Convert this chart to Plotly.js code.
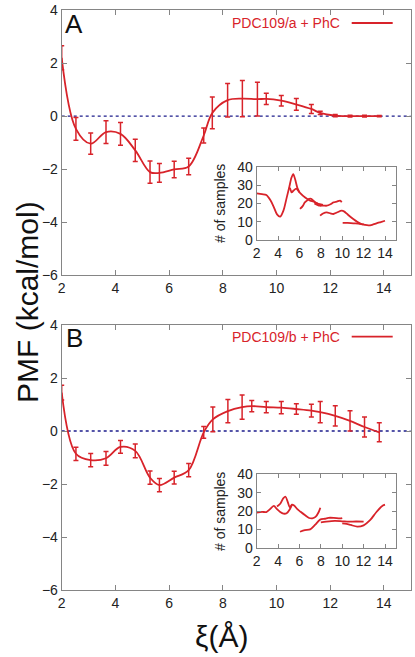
<!DOCTYPE html>
<html>
<head>
<meta charset="utf-8">
<script src="https://cdn.plot.ly/plotly-3.0.1.min.js"></script>
<style>html,body{margin:0;padding:0;background:#fff;}#chart{width:415px;height:657px;}</style>
</head>
<body>
<div id="chart"></div>
<script>
// ---- Main PMF data, panel A (PDC109/a + PhC) ----
const xiA   = [2.0,2.53,3.08,3.65,4.19,4.74,5.29,5.64,6.19,6.73,7.29,7.61,8.18,8.73,9.29,9.62,10.18,10.74,11.3,11.63,12.19,12.74,13.28,13.83];
const pmfA  = [2.2,-0.48,-1.04,-0.6,-0.67,-1.29,-2.11,-2.14,-2.01,-1.9,-0.73,0.12,0.6,0.66,0.64,0.65,0.58,0.44,0.27,0.12,0.02,0.0,0.0,0.0];
const errA  = [0.45,0.43,0.4,0.43,0.43,0.42,0.42,0.35,0.31,0.31,0.28,0.6,0.63,0.68,0.64,0.21,0.2,0.22,0.17,0.06,0.04,0.03,0.03,0.02];

// ---- Main PMF data, panel B (PDC109/b + PhC) ----
const xiB   = [2.0,2.53,3.08,3.65,4.19,4.74,5.29,5.64,6.19,6.73,7.29,7.63,8.19,8.72,9.08,9.62,10.18,10.74,11.3,11.63,12.19,12.74,13.28,13.83];
const pmfB  = [1.45,-0.86,-1.1,-1.03,-0.6,-0.75,-1.76,-2.04,-1.76,-1.48,-0.05,0.44,0.75,0.9,0.94,0.9,0.88,0.83,0.77,0.71,0.57,0.38,0.15,-0.05];
const errB  = [0.28,0.25,0.25,0.26,0.24,0.26,0.25,0.25,0.24,0.25,0.22,0.47,0.44,0.46,0.21,0.21,0.23,0.2,0.24,0.4,0.38,0.38,0.38,0.36];

// ---- Inset A: number of samples per window ----
const sampA1x = [2,2.5,2.9,3.3,3.6,3.9,4.2,4.5,4.8,5.05,5.25,5.42,5.6,5.8,6.0];
const sampA1y = [25.5,25,24.5,21.5,18,14,12.8,16,23,29,34,36,33,28.5,26];
const sampA2x = [5.0,5.1,5.27,5.45,5.7,6.0,6.5,7.0,7.3,7.6,7.9,8.2];
const sampA2y = [28,28.3,26,27,28,26,23.3,21.5,21,20,19.6,19.2];
const sampA3x = [6.05,6.3,6.5,6.7,6.9,7.1,7.3,7.5,7.7];
const sampA3y = [17,18.5,20.5,21.5,22.4,22.5,21.5,20.5,20];
const sampA4x = [7.4,7.9,8.2,8.55,8.9,9.17,9.5,9.8,9.95];
const sampA4y = [20,18.7,18.8,18.7,19.5,20.5,21,21.5,20.6];
const sampA5x = [7.93,8.2,8.55,8.9,9.17,9.5,9.95,10.2,10.4,10.7,11.03,11.4,11.8,12.0];
const sampA5y = [13.3,14.5,15.1,14.5,14.2,15,16,15.5,14.5,13,11.5,10,8.7,8.5];
const sampA6x = [10.04,10.5,11.04,11.5,11.8,12.1,12.44,12.8,13.2,13.6,14];
const sampA6y = [9.3,9.3,9.1,9,8.7,8.3,8.0,8.3,9.1,9.8,10.5];

// ---- Inset B ----
const sampB1x = [2,2.5,2.9,3.2,3.6,3.9,4.2,4.5,4.8,5.1,5.3];
const sampB1y = [19.1,19.6,19.4,20.8,22.8,21,19.5,18.6,18.8,21,23.5];
const sampB2x = [3.9,4.2,4.5,4.7,4.9,5.1,5.3,5.5,5.8,6.1,6.5,6.9,7.2,7.5,7.8,7.95];
const sampB2y = [22.5,24,27,27.8,25,22,23.5,23,21,19.6,17.8,16.2,16,16.8,19.5,21.8];
const sampB3x = [6.05,6.5,7.0,7.45,7.93,8.4,8.7,9.2,9.8,10.0];
const sampB3y = [8.7,9.6,10,12.4,15.3,15.8,16.3,16.3,16,16.2];
const sampB4x = [8.0,8.5,9.3,10,10.6,11.3,12.0];
const sampB4y = [13.8,14.2,14.6,14.4,14.2,14.3,14.2];
const sampB5x = [10.0,10.4,10.8,11.4,12.0,12.6,13.2,13.8,14.0];
const sampB5y = [13.3,13,12.4,11.5,12.2,15,19.5,23,23.5];

const zeroX = [2,15];
const zeroY = [0,0];

const xTicks = [2,4,6,8,10,12,14];
const yTicks = [-6,-4,-2,0,2,4];
const sTicks = [0,10,20,30,40];

const labelA = 'PDC109/a + PhC';
const labelB = 'PDC109/b + PhC';

const RED = '#d8232a';
const AX = '#858585';
const FONT = 'Liberation Sans, Arial, sans-serif';

function pmfTrace(x, y, e, xa, ya, name){
  return {x:x, y:y, xaxis:xa, yaxis:ya, name:name, type:'scatter', mode:'lines',
    line:{color:RED, width:1.8, shape:'spline', smoothing:1},
    error_y:{type:'data', array:e, visible:true, color:RED, thickness:1.5, width:2.5},
    showlegend:false, hoverinfo:'skip'};
}
function zeroTrace(xa, ya){
  return {x:zeroX, y:zeroY, xaxis:xa, yaxis:ya, type:'scatter', mode:'lines',
    line:{color:'#1c1c8c', width:1.4, dash:'dot'}, showlegend:false, hoverinfo:'skip'};
}
function sampTrace(x, y, xa, ya){
  return {x:x, y:y, xaxis:xa, yaxis:ya, type:'scatter', mode:'lines',
    line:{color:RED, width:1.8, shape:'spline', smoothing:0.8}, showlegend:false, hoverinfo:'skip'};
}

const data = [
  zeroTrace('x','y'), pmfTrace(xiA, pmfA, errA, 'x', 'y', labelA),
  zeroTrace('x2','y2'), pmfTrace(xiB, pmfB, errB, 'x2', 'y2', labelB),
  sampTrace(sampA1x, sampA1y, 'x3','y3'), sampTrace(sampA2x, sampA2y, 'x3','y3'),
  sampTrace(sampA3x, sampA3y, 'x3','y3'), sampTrace(sampA4x, sampA4y, 'x3','y3'),
  sampTrace(sampA5x, sampA5y, 'x3','y3'), sampTrace(sampA6x, sampA6y, 'x3','y3'),
  sampTrace(sampB1x, sampB1y, 'x4','y4'), sampTrace(sampB2x, sampB2y, 'x4','y4'),
  sampTrace(sampB3x, sampB3y, 'x4','y4'), sampTrace(sampB4x, sampB4y, 'x4','y4'),
  sampTrace(sampB5x, sampB5y, 'x4','y4')
];

const W = 415, H = 657;
const px = v => v / W;
const py = v => 1 - v / H;

function xAxis(domain, anchor, len){
  return {domain:domain, anchor:anchor, range:[2,15], tickvals:xTicks, ticks:'inside', ticklen:len,
    tickcolor:AX, tickwidth:1, showline:true, linecolor:AX, linewidth:1, mirror:'ticks',
    showgrid:false, zeroline:false, tickfont:{family:FONT, size:14, color:'#222'}, fixedrange:true};
}
function yAxis(domain, anchor, range, vals, len){
  return {domain:domain, anchor:anchor, range:range, tickvals:vals, ticks:'inside', ticklen:len,
    tickcolor:AX, tickwidth:1, showline:true, linecolor:AX, linewidth:1, mirror:'ticks',
    showgrid:false, zeroline:false, tickfont:{family:FONT, size:14, color:'#222'}, fixedrange:true};
}

const layout = {
  width:W, height:H, margin:{l:0,r:0,t:0,b:0}, paper_bgcolor:'#fff', plot_bgcolor:'#fff',
  showlegend:false,
  xaxis:  xAxis([px(61.7), px(410.7)], 'y', 5),
  yaxis:  yAxis([py(275.3), py(10)], 'x', [-6,4], yTicks, 5),
  xaxis2: xAxis([px(61.7), px(410.7)], 'y2', 5),
  yaxis2: yAxis([py(590), py(325)], 'x2', [-6,4], yTicks, 5),
  xaxis3: xAxis([px(256.7), px(395.7)], 'y3', 4),
  yaxis3: yAxis([py(240), py(166.7)], 'x3', [0,40], sTicks, 4),
  xaxis4: xAxis([px(256.7), px(395.7)], 'y4', 4),
  yaxis4: yAxis([py(547.7), py(474.4)], 'x4', [0,40], sTicks, 4),
  shapes: [
    {type:'line', xref:'paper', yref:'paper', x0:px(351.7), x1:px(392.7), y0:py(23), y1:py(23), line:{color:RED, width:1.8}},
    {type:'line', xref:'paper', yref:'paper', x0:px(351.7), x1:px(392.7), y0:py(336.7), y1:py(336.7), line:{color:RED, width:1.8}}
  ],
  annotations: [
    {text:labelA, xref:'paper', yref:'paper', x:px(342), y:py(23), xanchor:'right', yanchor:'middle', showarrow:false, font:{family:FONT, size:14, color:RED}},
    {text:labelB, xref:'paper', yref:'paper', x:px(342), y:py(336.7), xanchor:'right', yanchor:'middle', showarrow:false, font:{family:FONT, size:14, color:RED}},
    {text:'A', xref:'paper', yref:'paper', x:px(74), y:py(24), xanchor:'center', yanchor:'middle', showarrow:false, font:{family:FONT, size:26, color:'#111'}},
    {text:'B', xref:'paper', yref:'paper', x:px(74), y:py(338), xanchor:'center', yanchor:'middle', showarrow:false, font:{family:FONT, size:26, color:'#111'}},
    {text:'PMF (kcal/mol)', xref:'paper', yref:'paper', x:px(27), y:py(302), textangle:-90, xanchor:'center', yanchor:'middle', showarrow:false, font:{family:FONT, size:30, color:'#111'}},
    {text:'ξ(Å)', xref:'paper', yref:'paper', x:px(221), y:py(636), xanchor:'center', yanchor:'middle', showarrow:false, font:{family:FONT, size:30, color:'#111'}},
    {text:'# of samples', xref:'paper', yref:'paper', x:px(220), y:py(204), textangle:-90, xanchor:'center', yanchor:'middle', showarrow:false, font:{family:FONT, size:14, color:'#222'}},
    {text:'# of samples', xref:'paper', yref:'paper', x:px(220), y:py(512), textangle:-90, xanchor:'center', yanchor:'middle', showarrow:false, font:{family:FONT, size:14, color:'#222'}}
  ]
};

Plotly.newPlot('chart', data, layout, {staticPlot:true, displayModeBar:false});
</script>
</body>
</html>
